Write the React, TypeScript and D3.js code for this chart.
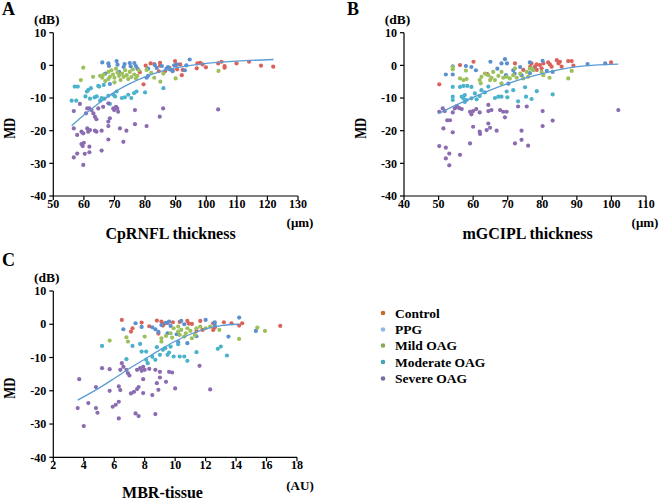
import React, { useEffect } from 'react'
import * as d3 from 'd3'

type Pt = [number, number]

const groups = ['Control', 'PPG', 'Mild OAG', 'Moderate OAG', 'Severe OAG']
const dotColors = ['#d9625b', '#5a8fd0', '#9cc05c', '#4bb2cb', '#8b6cb0']
const legendColors = ['#c46a2c', '#8fb8e8', '#8ca75a', '#46a3b6', '#7a6ca0']
const fitColor = '#5b9bd5'

const yTicks = [10, 0, -10, -20, -30, -40]
const aTicks = [50, 60, 70, 80, 90, 100, 110, 120, 130]
const bTicks = [40, 50, 60, 70, 80, 90, 100, 110]
const cTicks = [2, 4, 6, 8, 10, 12, 14, 16, 18]

// Panel A: CpRNFL thickness vs MD
const aControl: Pt[] = [[79.5,-5.8],[78.3,-2.1],[80.2,-0.1],[81.8,0.6],[83,0.4],[84.9,0.8],[84.9,-0.1],[84.5,-1.8],[86.5,-1.8],[88,-0.8],[89.8,1.3],[90.1,0.1],[90.5,-1.2],[91.5,0.3],[92.3,-1.4],[92,-3],[96.9,-0.9],[97.1,0.6],[98,0.8],[98.8,0.3],[99.9,-0.6],[103.9,0.6],[105,1.1],[106,-0.2],[106,-0.7],[109.9,0.6],[114,1.1],[117.9,-0.1],[121.9,-0.4],[89,-1.5]]
const aPPG: Pt[] = [[66,0.9],[68,0.6],[68.2,-0.2],[70.7,1.3],[71,0.2],[73,-0.5],[73.3,0.4],[75,0.7],[75.3,-0.3],[76.5,0.7],[77,-0.2],[77.5,-1],[71.5,-2],[67,-2.5],[68.5,-5.7],[80.5,-3.8],[81,-3.2],[83.2,0.1],[83.8,-0.8],[85.5,-0.2],[87,-1],[88,-1.2],[89,-1.8],[93,-1.5],[93.5,0],[94.6,1.8],[89.5,0],[90.5,0.3],[87.5,-0.5],[81,-1]]
const aMild: Pt[] = [[59.8,-0.7],[59,-4.5],[63,-3.5],[65.3,-3.2],[66,-3.8],[66.5,-2.8],[67,-4.8],[68,-2],[68.5,-3.5],[69,-1.5],[69.5,-2.8],[70,-3.8],[70.5,-1],[71,-2.2],[71.5,-3.2],[72,-4.5],[72.5,-2.5],[73,-3.5],[73.5,-1.5],[74,-3],[74.5,-4.2],[75,-2],[75.5,-3.6],[76,-1.2],[76.5,-2.8],[77,-4],[77.5,-3.2],[78,-1.5],[68,-4.2],[70,-5.2],[80.5,-1.4],[83,-3.8],[85,-5],[86,-2.5],[90,-4],[104,-1.7],[82,-2.3]]
const aModerate: Pt[] = [[56,-10.8],[57.5,-10.8],[57,-6.5],[58,-6.5],[60.5,-9.5],[61,-8],[61.5,-7.5],[62.3,-7],[62,-10.2],[63.5,-9.8],[64.2,-9.5],[64.7,-6.3],[65.3,-10.8],[65.8,-10],[66.5,-6],[66.7,-10.2],[68,-9.3],[68.5,-11.8],[69.6,-9],[70.2,-9.5],[70.7,-8],[72.4,-10],[73.4,-9.8],[74.5,-9],[75.5,-10],[76.4,-8.5],[77.2,-8],[80,-8.3],[86,-7],[65,-6.5]]
const aSevere: Pt[] = [[56.7,-14],[56.7,-19.3],[56.7,-28.2],[57.8,-21.3],[57.8,-27],[58.7,-11.8],[59.2,-24.1],[59.6,-24.7],[59.8,-30.5],[60,-23.7],[60.3,-27.1],[60.7,-14.7],[61.1,-13.2],[61.1,-19.3],[61.4,-20.3],[61.8,-13.2],[61.8,-24.9],[61.8,-26.6],[62,-19.8],[62.5,-13.7],[63.1,-14.7],[63.6,-15.7],[63.6,-20],[64.1,-16.5],[64.1,-20.3],[64.7,-13.2],[65.8,-26.1],[65.8,-20],[66.3,-12.7],[68,-11.6],[68,-17.2],[68,-18.6],[68,-22.7],[68.5,-16.2],[69.6,-13.2],[69.9,-13.7],[70.5,-12.7],[70.9,-13.2],[71.2,-14.2],[71.8,-19.3],[72.9,-23.4],[73.9,-20],[76.7,-13.7],[76.7,-18],[80.5,-18.6],[84.8,-15.7],[85.9,-13.2],[103.9,-13.5],[59.2,-20.3],[59.8,-20.8]]
const aFitX = [56, 60, 65, 70, 75, 80, 85, 90, 95, 100, 110, 122]
const aFitY = [-18.5, -15.2, -11.5, -8.2, -5.6, -3.5, -1.9, -0.8, 0, 0.6, 1.3, 1.8]

// Panel B: mGCIPL thickness vs MD
const bControl: Pt[] = [[50.2,-5.8],[56.2,0.1],[60.1,1.1],[64.1,-2.7],[72.1,0.6],[74.5,-1.4],[76.9,0.6],[77.9,-0.4],[78.4,-1.4],[79.3,0.1],[80.3,0.6],[81.7,0.9],[82.2,0.3],[82.7,-0.4],[79.8,-0.9],[84.2,1.6],[84.7,0.6],[85.6,-0.4],[85.1,1.1],[87.5,1.3],[88.5,1.3],[89,-0.1],[99.9,0.9],[76.5,-0.4],[78.4,0.3]]
const bPPG: Pt[] = [[52.1,-2.8],[54.1,-2.8],[57.9,-0.2],[59.5,-0.5],[60.8,-1.5],[65,1.1],[68.2,0.6],[69.2,1.9],[69.8,0.6],[69.5,-3],[71.6,-1.5],[73.6,-0.5],[76.4,0.9],[77.4,-1.2],[70.2,-5.6],[80.1,1.4],[81.3,-1.7],[83,-2],[93.1,0.4],[98.2,0.6],[76.4,-2.4],[67,-1],[72,-2.5],[74,-3],[54.1,-0.3]]
const bMild: Pt[] = [[54.1,-0.5],[54.1,-1.2],[56.2,-4],[57.2,-4.5],[58.1,-4.2],[57.9,-1.6],[62.2,-5.5],[62.4,-3.5],[63.4,-2.5],[64.4,-3],[64.9,-4.5],[65.3,-3.8],[65.8,-2],[66.3,-4.5],[67.3,-3.2],[68.2,-2],[68.2,-5.5],[68.7,-3.8],[69.7,-3.5],[70.6,-4],[71.6,-3],[72.1,-0.9],[72.6,-3.8],[73.6,-2.5],[74.5,-4],[75.5,-2],[75.9,-3.5],[76.4,-1],[76.9,-0.9],[77.4,-1.5],[79.8,-2],[80.3,-3],[82.1,-3.8],[87.5,-4],[88.5,-1.7],[61.9,-4.5]]
const bModerate: Pt[] = [[54.1,-6.6],[56.2,-6.6],[57.2,-6.3],[58.3,-6.3],[59.5,-6.6],[54.1,-9.6],[54.1,-10.6],[56.7,-9.6],[57.2,-10.1],[57.6,-9.1],[58.1,-10.6],[57.6,-11.2],[59.5,-10.1],[60.5,-8.6],[61.9,-9.4],[62.4,-7.6],[63.4,-8.3],[64.4,-6.5],[66.3,-10],[67.3,-9.6],[68.2,-9.6],[69.7,-8],[69.9,-9.8],[71.6,-7.6],[73,-11],[75,-6.7],[75.3,-9.6],[76.9,-10.3],[78.4,-7.9],[83,-8.9],[61,-10.4]]
const bSevere: Pt[] = [[50.2,-14.2],[51.2,-13.2],[51.8,-14],[52.5,-16.8],[53.3,-16.8],[54.1,-14.4],[51.4,-19.3],[54.1,-20.5],[50.2,-24.7],[52.1,-25.2],[53.1,-27],[52.1,-28.5],[53.1,-30.6],[56.2,-27.4],[54.7,-13.2],[55.3,-12.5],[56,-13.1],[56.7,-13.4],[59.1,-14.2],[59.5,-15],[60,-14],[60.9,-13.4],[61.9,-14.4],[64.4,-12.1],[64.4,-14],[65.3,-13.7],[59.1,-23.9],[60,-18.8],[61.9,-20.3],[62,-21],[64.4,-17.8],[64.9,-19.1],[63.9,-19.8],[66.8,-20],[67.8,-13.7],[68.7,-14.2],[69.2,-15.9],[69.7,-14.2],[72.1,-23.9],[73,-12.6],[74,-20],[74,-22.8],[75.5,-12.6],[75.9,-24.6],[80.1,-14],[80.1,-18.6],[83,-16.9],[102,-13.7]]
const bFitX = [50, 55, 60, 65, 70, 75, 80, 85, 90, 95, 102]
const bFitY = [-14.8, -12.2, -9.8, -7.6, -5.6, -3.9, -2.5, -1.3, -0.4, 0.1, 0.4]

// Panel C: MBR-tissue vs MD
const cControl: Pt[] = [[6.5,1.3],[7.1,-2.2],[7.2,-1.2],[7.8,0.5],[8.3,-0.6],[8.8,1.1],[8.9,-2.8],[9.1,0.8],[9.3,0.2],[9.5,0.4],[9.85,0.6],[10.8,1],[10.9,0.2],[11.1,0.1],[11.65,1],[11.8,-1.7],[11.4,-2],[12.5,0.3],[12.5,-1.7],[12.6,-1],[13.2,0.6],[13.7,0.3],[14.2,-0.4],[14.4,0.3],[16.9,-0.5],[9.2,-0.4],[10.3,0.7]]
const cPPG: Pt[] = [[6.6,-1.5],[7.4,0.3],[7.8,-0.8],[8.5,-0.9],[8.7,-1.5],[8.9,-2.3],[9.1,-0.2],[9.4,0.4],[9.7,-0.5],[10.4,1],[10.6,0],[10.1,-3],[12,1.3],[12.6,0.6],[12.6,-0.2],[14.2,2],[13.5,-3.7],[15.3,-2],[9.5,-2.7],[10.8,-5.7],[10.2,-5.4],[9.6,0.8],[11.4,-3.6]]
const cMild: Pt[] = [[5.7,-4.9],[6.8,-3.9],[6.9,-5.2],[8,-3.7],[9.1,-4.2],[9.1,-5.2],[9.7,-2.7],[9.9,-1.2],[10.2,-0.7],[10.2,-2.2],[10.3,-3.2],[10.4,-1.7],[10.6,-3.7],[10.7,-2.7],[10.8,-1.2],[11,-2],[11.1,-4.2],[11.3,-3.2],[11.4,-1.2],[11.65,-0.7],[12,-1.2],[12.3,-0.7],[12.9,-1.7],[14.2,-4.4],[15.4,-1],[15.9,-2],[9.4,-3.5],[9.8,-4]]
const cModerate: Pt[] = [[5.2,-6.5],[6.8,-10.5],[7.2,-6.5],[7.7,-5.9],[7.8,-8.2],[8.1,-8.2],[8.1,-10.7],[8.2,-11.7],[8.5,-9.8],[8.7,-10.7],[8.8,-6.9],[9,-9.2],[9.2,-7.7],[9.35,-7.2],[9.5,-9.2],[9.7,-6.7],[9.9,-9.7],[10.3,-9.7],[10.6,-9.7],[10.8,-11],[11.4,-8.4],[12.8,-7.4],[13,-6.7],[13.4,-9.4],[10.2,-6],[9.6,-8.5]]
const cSevere: Pt[] = [[3.7,-16.5],[4.8,-18.9],[5.2,-13.2],[5.7,-13.5],[3.6,-25.2],[4,-30.6],[4.3,-23.7],[4.8,-25.2],[4.9,-26.6],[5.7,-20],[5.9,-24.8],[6.1,-24.2],[6.3,-23.3],[6.3,-28.3],[6.3,-18.7],[6.4,-19.8],[6.5,-11.7],[6.4,-13.7],[6.6,-12.8],[6.8,-13.7],[6.9,-14.7],[7,-15.4],[7.3,-20.3],[7.5,-19.5],[7.6,-18.9],[7.4,-26.8],[7.6,-27.6],[7.5,-13.7],[7.7,-13.2],[7.8,-14],[7.9,-12.8],[8,-13.7],[7.9,-16.5],[7.9,-20.7],[8.3,-13.4],[8.7,-13.7],[8.7,-27],[8.8,-17.7],[8.9,-19.7],[9,-14.3],[9,-16],[9.4,-17.3],[9.6,-14.3],[9.8,-14.5],[8.5,-21.3],[10,-19.3],[11.6,-12.5],[12.3,-19.6],[7.1,-20.8]]
const cFitX = [3.6, 5, 6, 7, 8, 9, 10, 11, 12, 13, 14.2]
const cFitY = [-22.8, -19.2, -16.3, -13.3, -10.5, -7.7, -5.1, -3, -1.4, -0.4, 0]

const font = '"Liberation Serif", "Times New Roman", serif'

type PanelProps = {
  letter: string
  letterX: number
  letterY: number
  left: number
  right: number
  top: number
  bottom: number
  xTicks: number[]
  series: Pt[][]
  fitX: number[]
  fitY: number[]
  xTitle: string
  xTitleX: number
  xTitleY: number
  unit: string
  unitX: number
  unitY: number
}

function Panel(p: PanelProps) {
  const x = d3
    .scaleLinear()
    .domain([p.xTicks[0], p.xTicks[p.xTicks.length - 1]])
    .range([p.left, p.right])
  const y = d3.scaleLinear().domain([-40, 10]).range([p.bottom, p.top])

  const line = d3
    .line<number>()
    .x((d) => x(d))
    .y((d, i) => y(p.fitY[i]))
    .curve(d3.curveMonotoneX)

  return (
    <g fontFamily={font} fontWeight="bold" fill="#000">
      <text x={p.letterX} y={p.letterY} fontSize={18}>
        {p.letter}
      </text>
      <text x={p.left - 6.5} y={p.top - 9} fontSize={13.5} textAnchor="middle">
        (dB)
      </text>
      <text
        transform={`translate(${p.left - 38},${(p.top + p.bottom) / 2 + 14}) rotate(-90)`}
        fontSize={16}
        textAnchor="middle"
        textLength={21}
        lengthAdjust="spacingAndGlyphs"
      >
        MD
      </text>

      {/* dots */}
      {p.series.map((pts, gi) => (
        <g key={gi} fill={dotColors[gi]}>
          {pts.map((d, i) => (
            <circle key={i} cx={x(d[0])} cy={y(d[1])} r={2.1} />
          ))}
        </g>
      ))}

      {/* fitted curve */}
      <path d={line(p.fitX) || ''} fill="none" stroke={fitColor} strokeWidth={1.3} />

      {/* axes */}
      <line x1={p.left} x2={p.left} y1={p.top} y2={p.bottom} stroke="#000" strokeWidth={1.2} />
      <line x1={p.left} x2={p.right} y1={p.bottom} y2={p.bottom} stroke="#000" strokeWidth={1.2} />
      {yTicks.map((t) => (
        <g key={t}>
          <line x1={p.left - 4} x2={p.left} y1={y(t)} y2={y(t)} stroke="#000" strokeWidth={1.2} />
          <text x={p.left - 7} y={y(t)} dy="0.35em" fontSize={12} textAnchor="end">
            {t}
          </text>
        </g>
      ))}
      {p.xTicks.map((t) => (
        <g key={t}>
          <line x1={x(t)} x2={x(t)} y1={p.bottom} y2={p.bottom + 4} stroke="#000" strokeWidth={1.2} />
          <text x={x(t)} y={p.bottom + 11.5} fontSize={12} textAnchor="middle">
            {t}
          </text>
        </g>
      ))}
      <text x={p.xTitleX} y={p.xTitleY} fontSize={16} textAnchor="middle">
        {p.xTitle}
      </text>
      <text x={p.unitX} y={p.unitY} fontSize={13} textAnchor="middle">
        {p.unit}
      </text>
    </g>
  )
}

const legendRows = [313, 329.5, 345.5, 362, 378.5]

export default function App() {
  useEffect(() => {
    document.body.style.margin = '0'
  }, [])

  return (
    <svg width={660} height={502} style={{ display: 'block', background: '#fff' }}>
      <Panel
        letter="A"
        letterX={2}
        letterY={15}
        left={53.3}
        right={298}
        top={32.7}
        bottom={196}
        xTicks={aTicks}
        series={[aControl, aPPG, aMild, aModerate, aSevere]}
        fitX={aFitX}
        fitY={aFitY}
        xTitle="CpRNFL thickness"
        xTitleX={170.5}
        xTitleY={239}
        unit="(μm)"
        unitX={300}
        unitY={227}
      />
      <Panel
        letter="B"
        letterX={347}
        letterY={15}
        left={404}
        right={646}
        top={32.7}
        bottom={196}
        xTicks={bTicks}
        series={[bControl, bPPG, bMild, bModerate, bSevere]}
        fitX={bFitX}
        fitY={bFitY}
        xTitle="mGCIPL thickness"
        xTitleX={527.5}
        xTitleY={239}
        unit="(μm)"
        unitX={645}
        unitY={227}
      />
      <Panel
        letter="C"
        letterX={2}
        letterY={265.5}
        left={53.3}
        right={297}
        top={291}
        bottom={457.3}
        xTicks={cTicks}
        series={[cControl, cPPG, cMild, cModerate, cSevere]}
        fitX={cFitX}
        fitY={cFitY}
        xTitle="MBR-tissue"
        xTitleX={162.5}
        xTitleY={497.5}
        unit="(AU)"
        unitX={300}
        unitY={490}
      />

      {/* legend */}
      <g fontFamily={font} fontWeight="bold" fontSize={13.5}>
        {groups.map((g, i) => (
          <g key={g}>
            <circle cx={383} cy={legendRows[i]} r={2.3} fill={legendColors[i]} />
            <text x={395} y={legendRows[i]} dy="0.35em" fill="#000">
              {g}
            </text>
          </g>
        ))}
      </g>
    </svg>
  )
}
